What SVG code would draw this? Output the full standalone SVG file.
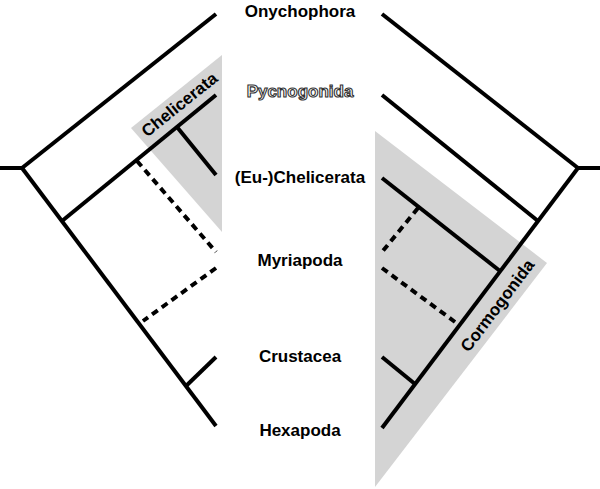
<svg xmlns="http://www.w3.org/2000/svg" width="600" height="489" viewBox="0 0 600 489">
  <style>
    .bg { fill: #ffffff; }
    .clade { fill: #d4d4d4; stroke: none; }
    .br { stroke: #000; stroke-width: 4; fill: none; stroke-linecap: butt; }
    .dash { stroke: #000; stroke-width: 4; fill: none; stroke-dasharray: 7 5; }
    .taxon { font-family: "Liberation Sans", Arial, sans-serif; font-weight: bold; font-size: 17px; fill: #000; text-anchor: middle; }
    .outlined { fill: #fff; stroke: #333; stroke-width: 1.1; }
    .cladelabel { font-family: "Liberation Sans", Arial, sans-serif; font-weight: bold; font-size: 17px; fill: #000; text-anchor: middle; }
  </style>
  <rect class="bg" x="0" y="0" width="600" height="489"/>

  <g id="clade-chelicerata">
    <polygon class="clade" points="131,128 222,55 222,232"/>
    <text class="cladelabel" transform="translate(183,109) rotate(-38.7)">Chelicerata</text>
  </g>
  <g id="clade-cormogonida">
    <polygon class="clade" points="375,131 547,263 375,487"/>
    <text class="cladelabel" transform="translate(502,309) rotate(-53)">Cormogonida</text>
  </g>

  <g id="connectors">
    <!-- left tree -->
    <line class="br" x1="0" y1="168" x2="22" y2="168"/>
    <line class="br" x1="22" y1="168" x2="216" y2="14"/>
    <line class="br" x1="22" y1="168" x2="216" y2="426"/>
    <line class="br" x1="62" y1="221" x2="216" y2="95"/>
    <line class="br" x1="177" y1="127" x2="216" y2="175"/>
    <line class="dash" x1="137" y1="161" x2="216" y2="252"/>
    <line class="dash" x1="216" y1="268" x2="143" y2="321"/>
    <line class="br" x1="186" y1="386" x2="216" y2="357"/>
    <!-- right tree -->
    <line class="br" x1="600" y1="168" x2="578" y2="168"/>
    <line class="br" x1="578" y1="168" x2="382" y2="14"/>
    <line class="br" x1="578" y1="168" x2="382" y2="428"/>
    <line class="br" x1="538" y1="221" x2="382" y2="95"/>
    <line class="br" x1="500" y1="271" x2="382" y2="178"/>
    <line class="dash" x1="418" y1="208" x2="382" y2="252"/>
    <line class="dash" x1="382" y1="268" x2="455" y2="322"/>
    <line class="br" x1="415" y1="384" x2="382" y2="357"/>
  </g>

  <g id="onychophora"><text class="taxon" x="300" y="17">Onychophora</text></g>
  <g id="pycnogonida"><text class="taxon outlined" x="300" y="97">Pycnogonida</text></g>
  <g id="euchelicerata"><text class="taxon" x="300" y="183">(Eu-)Chelicerata</text></g>
  <g id="myriapoda"><text class="taxon" x="300" y="266">Myriapoda</text></g>
  <g id="crustacea"><text class="taxon" x="300" y="362">Crustacea</text></g>
  <g id="hexapoda"><text class="taxon" x="300" y="436">Hexapoda</text></g>
</svg>
